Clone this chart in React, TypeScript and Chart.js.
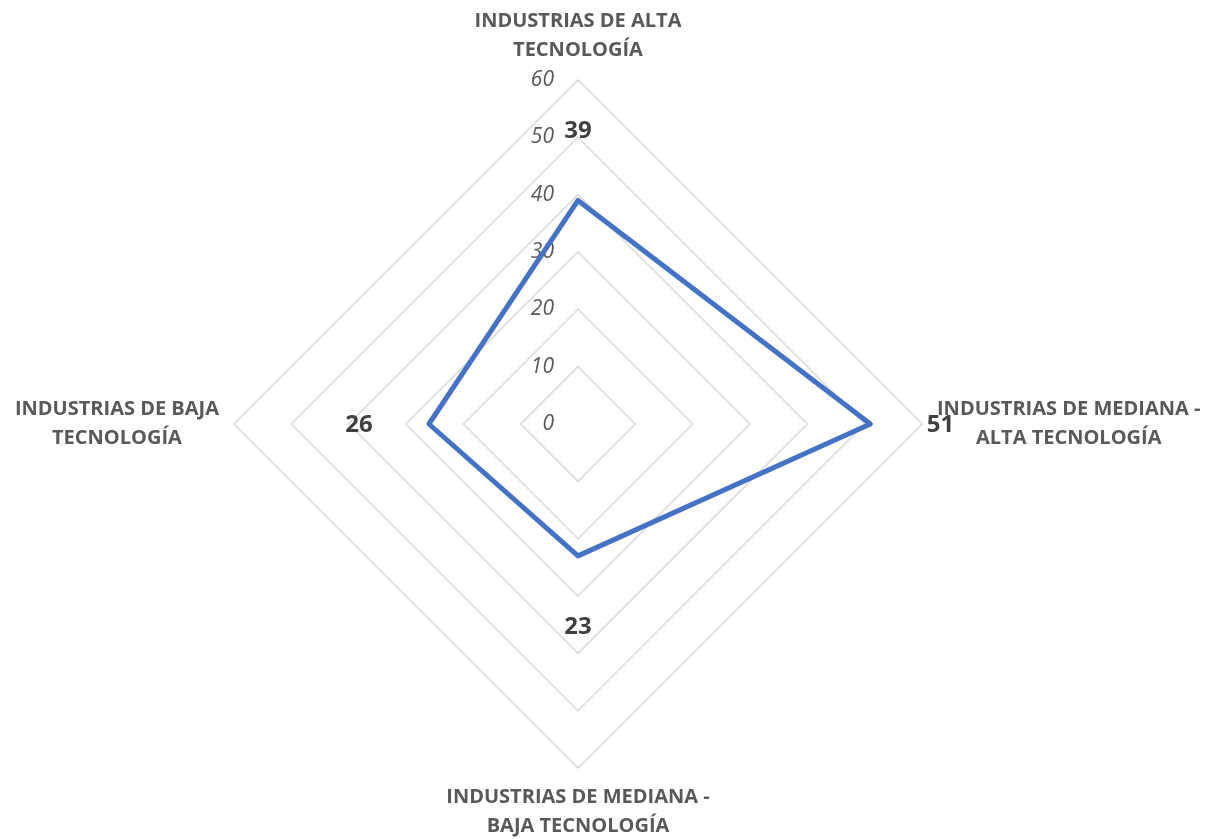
import { useEffect, useRef } from "react";
import { Chart, registerables } from "chart.js";

Chart.register(...registerables);

// Axis categories (each split over two lines) and their values
const categories: string[][] = [
  ["INDUSTRIAS DE ALTA", "TECNOLOGÍA"],
  ["INDUSTRIAS DE MEDIANA -", "ALTA TECNOLOGÍA"],
  ["INDUSTRIAS DE MEDIANA -", "BAJA TECNOLOGÍA"],
  ["INDUSTRIAS DE BAJA", "TECNOLOGÍA"],
];
const values: number[] = [39, 51, 23, 26];
const tickValues: number[] = [0, 10, 20, 30, 40, 50, 60];

const FONT = "'Open Sans', 'Noto Sans', sans-serif";
const LABEL_COLOR = "#595959";
const VALUE_COLOR = "#404040";

// Draws the tick numbers on the vertical axis, the wrapped category
// labels around the web and the value labels outside each vertex.
const radarText = {
  id: "radarText",
  beforeDatasetsDraw(chart: any) {
    const scale = chart.scales.r;
    const ctx: CanvasRenderingContext2D = chart.ctx;
    ctx.save();
    ctx.font = `italic 21px ${FONT}`;
    ctx.fillStyle = LABEL_COLOR;
    ctx.textAlign = "right";
    ctx.textBaseline = "middle";
    for (const t of tickValues) {
      const p = scale.getPointPositionForValue(0, t);
      ctx.fillText(String(t), p.x - 24, p.y);
    }
    ctx.restore();
  },
  afterDatasetsDraw(chart: any) {
    const scale = chart.scales.r;
    const ctx: CanvasRenderingContext2D = chart.ctx;
    const cx = scale.xCenter;
    const cy = scale.yCenter;
    ctx.save();

    // category labels
    const lineH = 29;
    const gap = 15;
    ctx.font = `bold 20px ${FONT}`;
    ctx.fillStyle = LABEL_COLOR;
    ctx.textAlign = "center";
    ctx.textBaseline = "middle";
    categories.forEach((lines, i) => {
      const v = scale.getPointPosition(i, scale.drawingArea);
      const w = Math.max(...lines.map((l) => ctx.measureText(l).width));
      const h = lines.length * lineH;
      let bx = v.x;
      let by = v.y;
      const dx = v.x - cx;
      const dy = v.y - cy;
      if (Math.abs(dy) > Math.abs(dx)) {
        by = dy < 0 ? v.y - gap - h / 2 : v.y + gap + h / 2;
      } else {
        bx = dx > 0 ? v.x + gap + w / 2 : v.x - gap - w / 2;
      }
      lines.forEach((l, k) => {
        ctx.fillText(l, bx, by - h / 2 + lineH / 2 + k * lineH);
      });
    });

    // value labels
    ctx.font = `bold 24px ${FONT}`;
    ctx.fillStyle = VALUE_COLOR;
    values.forEach((val, i) => {
      const d = scale.getDistanceFromCenterForValue(val) + 70;
      const p = scale.getPointPosition(i, d);
      ctx.fillText(String(val), p.x, p.y + 1);
    });
    ctx.restore();
  },
};

export default function App() {
  const ref = useRef<HTMLCanvasElement | null>(null);

  useEffect(() => {
    if (!ref.current) return;
    const chart = new Chart(ref.current, {
      type: "radar",
      data: {
        labels: categories.map((c) => c.join(" ")),
        datasets: [
          {
            data: values,
            borderColor: "#4472C4",
            borderWidth: 5,
            borderJoinStyle: "round",
            pointRadius: 0,
            pointHoverRadius: 0,
            fill: false,
          },
        ],
      },
      options: {
        animation: false,
        responsive: true,
        maintainAspectRatio: false,
        layout: { padding: { top: 80, bottom: 71, left: 234, right: 303 } },
        plugins: { legend: { display: false }, tooltip: { enabled: false } },
        scales: {
          r: {
            min: 0,
            max: 60,
            ticks: { stepSize: 10, display: false },
            grid: { color: "#d9d9d9", lineWidth: 1.5 },
            angleLines: { display: false },
            pointLabels: { display: false },
          },
        },
      },
      plugins: [radarText],
    });
    return () => chart.destroy();
  }, []);

  return (
    <div
      style={{
        position: "fixed",
        left: 0,
        top: 0,
        width: 1225,
        height: 839,
        background: "#ffffff",
      }}
    >
      <canvas ref={ref} />
    </div>
  );
}
